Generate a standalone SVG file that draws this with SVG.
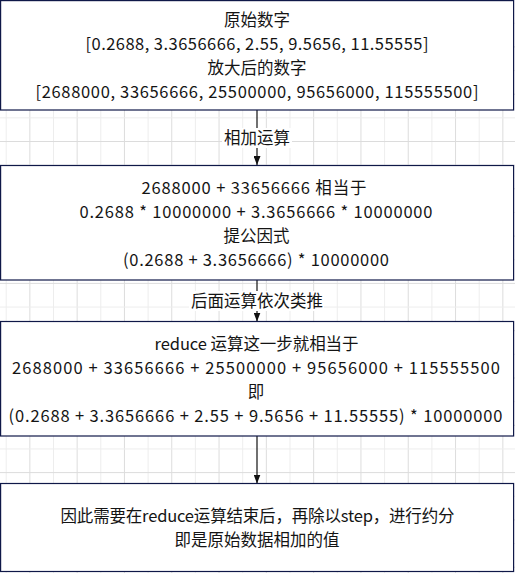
<svg xmlns="http://www.w3.org/2000/svg" width="515" height="573" viewBox="0 0 515 573">
  <defs>
    <pattern id="grid" patternUnits="userSpaceOnUse" x="5.7" y="-0.9" width="47.3" height="47.3">
      <rect x="0" y="0" width="1" height="47.3" fill="#ededed"/>
      <rect x="23.65" y="0" width="1" height="47.3" fill="#dcdcdc"/>
      <rect x="0" y="23.65" width="47.3" height="1" fill="#ededed"/>
      <rect x="0" y="0" width="47.3" height="1" fill="#dcdcdc"/>
    </pattern>
    <marker id="arrow" markerUnits="userSpaceOnUse" viewBox="0 0 7 9" markerWidth="7" markerHeight="9" refX="3.5" refY="9" orient="0">
      <path d="M0,0 L7,0 L3.5,9 z" fill="#111111"/>
    </marker>
    <style>
      .box { fill: #ffffff; stroke: #0f1848; stroke-width: 1.2; }
      .t { font-family: "Noto Sans CJK SC", "Noto Sans", sans-serif; font-size: 16.5px; fill: #141414; text-anchor: middle; }
      .edge { stroke: #111111; stroke-width: 1.2; fill: none; }
      .lbg { fill: #ffffff; }
    </style>
  </defs>
  <rect x="0" y="0" width="515" height="573" fill="#ffffff"/>
  <rect x="0" y="0" width="515" height="573" fill="url(#grid)"/>

  <g id="connectors">
    <line class="edge" x1="257" y1="110" x2="257" y2="165" marker-end="url(#arrow)"/>
    <rect class="lbg" x="222" y="128" width="70" height="20"/>
    <text class="t" x="257" y="144">相加运算</text>
    <line class="edge" x1="257" y1="280" x2="257" y2="321.5" marker-end="url(#arrow)"/>
    <rect class="lbg" x="189" y="291" width="135" height="20"/>
    <text class="t" x="257" y="307">后面运算依次类推</text>
    <line class="edge" x1="257" y1="436" x2="257" y2="483.5" marker-end="url(#arrow)"/>
  </g>

  <g id="node1">
    <rect class="box" x="0.6" y="0.6" width="513" height="109.4"/>
    <text class="t" x="257" y="26">原始数字</text>
    <text class="t" x="257" y="50" textLength="343" lengthAdjust="spacing">[0.2688, 3.3656666, 2.55, 9.5656, 11.55555]</text>
    <text class="t" x="257" y="74">放大后的数字</text>
    <text class="t" x="257" y="98" textLength="443" lengthAdjust="spacing">[2688000, 33656666, 25500000, 95656000, 115555500]</text>
  </g>

  <g id="node2">
    <rect class="box" x="0.6" y="165.5" width="513" height="114.5"/>
    <text class="t" x="254" y="193.5" textLength="225" lengthAdjust="spacing">2688000 + 33656666 相当于</text>
    <text class="t" x="256" y="217.5" textLength="353" lengthAdjust="spacing">0.2688 * 10000000 + 3.3656666 * 10000000</text>
    <text class="t" x="256.5" y="241.5">提公因式</text>
    <text class="t" x="256" y="265.5" textLength="266" lengthAdjust="spacing">(0.2688 + 3.3656666) * 10000000</text>
  </g>

  <g id="node3">
    <rect class="box" x="0.6" y="321.5" width="513" height="114.5"/>
    <text class="t" x="256.5" y="350" textLength="204" lengthAdjust="spacing">reduce 运算这一步就相当于</text>
    <text class="t" x="256" y="374" textLength="488" lengthAdjust="spacing">2688000 + 33656666 + 25500000 + 95656000 + 115555500</text>
    <text class="t" x="256" y="398">即</text>
    <text class="t" x="255.5" y="422" textLength="494" lengthAdjust="spacing">(0.2688 + 3.3656666 + 2.55 + 9.5656 + 11.55555) * 10000000</text>
  </g>

  <g id="node4">
    <rect class="box" x="0.6" y="483.5" width="513" height="88"/>
    <text class="t" x="257.5" y="522" textLength="394" lengthAdjust="spacing">因此需要在reduce运算结束后，再除以step，进行约分</text>
    <text class="t" x="257" y="546">即是原始数据相加的值</text>
  </g>
</svg>
